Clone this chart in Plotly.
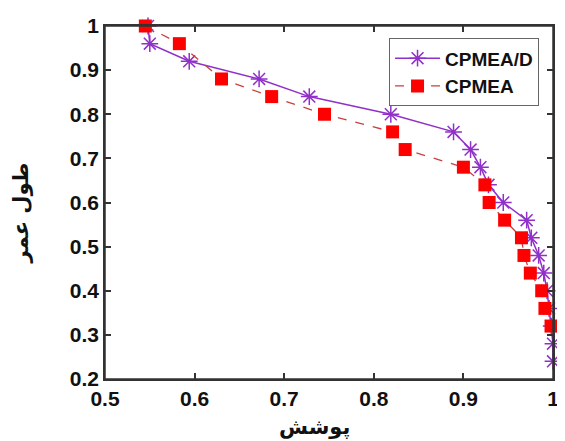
import plotly.graph_objects as go

# CPMEA/D series
cpmead_x = [0.548, 0.550, 0.594, 0.672, 0.728, 0.819, 0.889, 0.908, 0.919, 0.928,
            0.9445, 0.9706, 0.9758, 0.984, 0.9897, 0.9934, 0.9956, 0.998, 1.0, 1.0]
cpmead_y = [1.00, 0.96, 0.92, 0.88, 0.84, 0.80, 0.76, 0.72, 0.68, 0.64,
            0.60, 0.56, 0.52, 0.48, 0.44, 0.40, 0.36, 0.32, 0.28, 0.24]

# CPMEA series
cpmea_x = [0.545, 0.583, 0.630, 0.686, 0.745, 0.821, 0.835, 0.900, 0.924,
           0.9287, 0.946, 0.9648, 0.9676, 0.9747, 0.9874, 0.991, 0.9978]
cpmea_y = [1.00, 0.96, 0.88, 0.84, 0.80, 0.76, 0.72, 0.68, 0.64,
           0.60, 0.56, 0.52, 0.48, 0.44, 0.40, 0.36, 0.32]

x_ticks = [0.5, 0.6, 0.7, 0.8, 0.9, 1.0]
x_tick_labels = ["0.5", "0.6", "0.7", "0.8", "0.9", "1"]
y_ticks = [0.2, 0.3, 0.4, 0.5, 0.6, 0.7, 0.8, 0.9, 1.0]
y_tick_labels = ["0.2", "0.3", "0.4", "0.5", "0.6", "0.7", "0.8", "0.9", "1"]

x_title = "پوشش"
y_title = "طول عمر"

purple = "#9030c8"

fig = go.Figure()
fig.add_trace(go.Scatter(
    x=cpmead_x, y=cpmead_y, name="CPMEA/D", mode="lines+markers",
    line=dict(color=purple, width=1.5),
    marker=dict(symbol="asterisk-open", size=14, line=dict(color=purple, width=1.5)),
    cliponaxis=False,
))
fig.add_trace(go.Scatter(
    x=cpmea_x, y=cpmea_y, name="CPMEA", mode="lines+markers",
    line=dict(color="#c84040", width=1.3, dash="dash"),
    marker=dict(symbol="square", size=13, color="#ff0000", line=dict(color="#e00000", width=0)),
    cliponaxis=False,
))

axis_common = dict(
    showline=True, linecolor="#333333", linewidth=1.5, mirror="ticks",
    ticks="inside", ticklen=6, tickwidth=1.5, tickcolor="#333333",
    showgrid=False, zeroline=False,
    tickfont=dict(family="Liberation Sans", size=21, color="#111111", weight="bold"),
)

title_font = dict(family="DejaVu Sans", size=21, color="#111111", weight="bold")

fig.update_layout(
    width=557, height=433,
    margin=dict(l=97, r=6, t=12, b=62),
    paper_bgcolor="white", plot_bgcolor="white",
    xaxis=dict(range=[0.5, 1.0], tickvals=x_ticks, ticktext=x_tick_labels, **axis_common),
    yaxis=dict(range=[0.2, 1.0], tickvals=y_ticks, ticktext=y_tick_labels, **axis_common),
    legend=dict(x=0.634, y=0.965, xanchor="left", yanchor="top",
                bordercolor="#666666", borderwidth=1, bgcolor="white",
                font=dict(family="Liberation Sans", size=19, color="#111111", weight="bold"),
                tracegroupgap=0, itemwidth=45),
    showlegend=True,
    shapes=[dict(type="rect", xref="paper", yref="paper", x0=0, y0=0, x1=1, y1=1,
                 line=dict(color="#333333", width=1.5), layer="above")],
    annotations=[
        dict(text=x_title, xref="paper", yref="paper", x=0.468, y=-0.136,
             xanchor="center", yanchor="middle", showarrow=False, font=title_font),
        dict(text=y_title, xref="paper", yref="paper", x=-0.188, y=0.471,
             xanchor="center", yanchor="middle", showarrow=False, textangle=-90, font=title_font),
    ],
)

fig.write_html("out.html")
